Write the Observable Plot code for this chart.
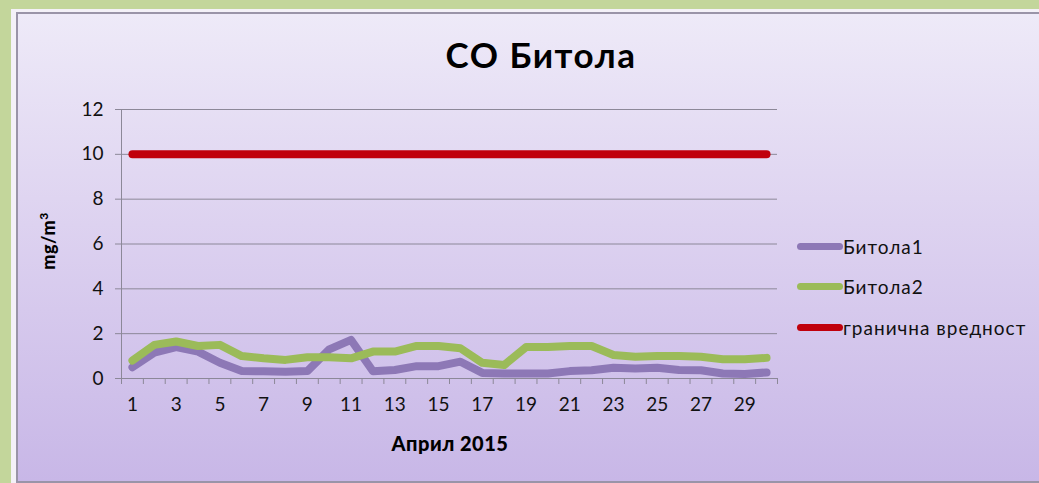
<!DOCTYPE html>
<html>
<head>
<meta charset="utf-8">
<script src="https://cdn.jsdelivr.net/npm/d3@7"></script>
<script src="https://cdn.jsdelivr.net/npm/@observablehq/plot@0.6"></script>
<style>
  html { margin: 0; padding: 0; overflow: hidden; width: 1039px; height: 483px; }
  body { margin: 0; padding: 0; width: 1039px; height: 483px; background: #c3d69b; position: relative; overflow: hidden; font-family: "Lato", "DejaVu Sans", sans-serif; }
  #white { position: absolute; left: 11px; top: 9px; width: 1028px; bottom: 0; background: #f4f1f8; }
  #panel { position: absolute; left: 16px; top: 12px; width: 1023px; bottom: 0px; border-left: 2px solid #9a94a8; border-top: 2px solid #9a94a8; border-bottom: 2px solid #9a94a8; box-sizing: border-box; background: linear-gradient(to bottom, #eeeaf8 0%, #ddd2f0 45%, #c8b7e7 100%); }
  #chart { position: absolute; left: 0; top: 0; }
  #chart svg g[aria-label="y-axis tick label"] text, #chart svg g[aria-label="x-axis tick label"] text { font-size: 19px; }
  .title { position: absolute; left: 0; width: 1082px; top: 33px; text-align: center; font-size: 35px; font-weight: 700; letter-spacing: 1.5px; color: #000; }
  .ylab { position: absolute; left: 47px; top: 241px; transform: translate(-50%, -50%) rotate(-90deg); font-size: 18px; font-weight: 900; white-space: nowrap; letter-spacing: 0.5px; }
  .ylab sup { font-size: 12px; }
  .xlab { position: absolute; left: 450px; top: 443px; transform: translate(-50%, -50%); font-size: 20px; font-weight: 900; letter-spacing: 0.5px; white-space: nowrap; }
  .legend { position: absolute; left: 797px; top: 226px; }
  .legend .row { display: flex; align-items: center; height: 40.5px; font-size: 19px; letter-spacing: 1px; color: #111; }
  .legend .sw { width: 46px; height: 7px; border-radius: 3.5px; margin-right: 0px; }
</style>
</head>
<body>
<div id="white"></div>
<div id="panel"></div>
<div id="chart"></div>
<div class="title">CO Битола</div>
<div class="ylab">mg/m<sup>3</sup></div>
<div class="xlab">Април 2015</div>
<div class="legend" id="legend"></div>
<script>
const days = d3.range(1, 31);
const bitola1 = [0.5, 1.15, 1.4, 1.2, 0.7, 0.33, 0.32, 0.3, 0.33, 1.3, 1.72, 0.32, 0.38, 0.55, 0.55,
                 0.75, 0.25, 0.22, 0.22, 0.22, 0.33, 0.37, 0.48, 0.45, 0.48, 0.38, 0.37, 0.22, 0.2, 0.27];
const bitola2 = [0.8, 1.5, 1.65, 1.45, 1.5, 1.0, 0.9, 0.83, 0.95, 0.95, 0.9, 1.2, 1.2, 1.45, 1.45,
                 1.35, 0.7, 0.6, 1.4, 1.4, 1.45, 1.45, 1.05, 0.97, 1.0, 1.0, 0.97, 0.86, 0.86, 0.92];
const limit = days.map(() => 10);
const seriesNames = ["Битола1", "Битола2", "гранична вредност"];
const seriesColors = ["#8d78b6", "#9bbb59", "#c0000c"];
const yTicks = [0, 2, 4, 6, 8, 10, 12];
const xTickLabels = d3.range(1, 30, 2);

const rows = [];
[bitola1, bitola2, limit].forEach((vals, k) => {
  vals.forEach((v, i) => rows.push({day: days[i], value: v, series: seriesNames[k]}));
});
const boundaries = days.map(d => d - 0.5).concat([days[days.length - 1] + 0.5]);

const font = "Lato, 'DejaVu Sans', sans-serif";
const chart = Plot.plot({
  width: 1039,
  height: 483,
  marginLeft: 121,
  marginRight: 262,
  marginTop: 109,
  marginBottom: 105,
  style: {background: "transparent", fontFamily: font, fontSize: "19px", color: "#111", overflow: "visible"},
  x: {type: "linear", domain: [0.5, 30.5]},
  y: {domain: [0, 12]},
  color: {domain: seriesNames, range: seriesColors},
  marks: [
    Plot.ruleY(yTicks, {stroke: "#8c8898", strokeWidth: 1}),
    Plot.ruleX([0.5], {stroke: "#8c8898", strokeWidth: 1}),
    Plot.axisY({ticks: yTicks, tickSize: 6, tickPadding: 12, stroke: "#8c8898", label: null, fontSize: 19}),
    Plot.axisX({ticks: boundaries, tickSize: 6, tickFormat: () => "", stroke: "#8c8898", label: null}),
    Plot.axisX({ticks: xTickLabels, tickSize: 0, tickPadding: 19, tickFormat: d3.format("d"), label: null, fontSize: 19}),
    Plot.line(rows, {x: "day", y: "value", z: "series", stroke: "series", strokeWidth: 8, strokeLinecap: "round", strokeLinejoin: "round"})
  ]
});
document.getElementById("chart").appendChild(chart);

const legend = document.getElementById("legend");
seriesNames.forEach((name, k) => {
  const row = document.createElement("div");
  row.className = "row";
  const sw = document.createElement("div");
  sw.className = "sw";
  sw.style.background = seriesColors[k];
  const t = document.createElement("span");
  t.textContent = name;
  row.appendChild(sw);
  row.appendChild(t);
  legend.appendChild(row);
});
</script>
</body>
</html>
